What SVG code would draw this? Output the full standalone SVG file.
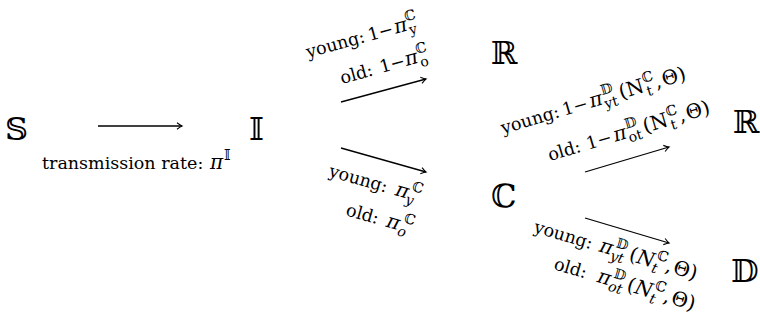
<svg xmlns="http://www.w3.org/2000/svg" width="760" height="321" viewBox="0 0 760 321">
<style>
text{font-family:"DejaVu Serif","DejaVu Sans",serif;fill:#000;font-size:17.5px}
.node{font-size:32px}
.it{font-style:italic}
.m{font-size:20px}
.s{font-size:14px}
.conn{stroke:#000;stroke-width:1.3;fill:none}
</style>
<defs>
<marker id="ah" markerWidth="10" markerHeight="10" viewBox="-6 -5 8 10" refX="0" refY="0" orient="auto" markerUnits="userSpaceOnUse">
<path d="M-5,-3.2 Q-1.5,-0.6 0,0 Q-1.5,0.6 -5,3.2" stroke="#000" stroke-width="1.1" fill="none"/>
</marker>
</defs>
<rect width="760" height="321" fill="#fff"/>
<g id="S"><text class="node" x="5" y="140">𝕊</text></g>
<g id="I"><text class="node" x="249" y="140">𝕀</text></g>
<g id="R1"><text class="node" x="491" y="64">ℝ</text></g>
<g id="C"><text class="node" x="491" y="207">ℂ</text></g>
<g id="R2"><text class="node" x="733" y="133">ℝ</text></g>
<g id="D"><text class="node" x="731" y="282">𝔻</text></g>
<g id="connectors" class="conn" marker-end="url(#ah)">
<line x1="98" y1="126" x2="182" y2="126"/>
<line x1="341" y1="102" x2="426" y2="79"/>
<line x1="341" y1="148" x2="426" y2="172"/>
<line x1="585" y1="172" x2="669" y2="147"/>
<line x1="585" y1="218" x2="669" y2="243"/>
</g>
<g id="labels">
<text x="42" y="169">transmission rate:<tspan class="it m" x="210">π</tspan><tspan class="s" x="224" y="160">𝕀</tspan></text>
<g transform="translate(308,58) rotate(-15.5)"><text>young:<tspan x="64" y="0">1</tspan><tspan x="75">−</tspan><tspan class="it m" x="91">π</tspan><tspan class="s" x="104" y="-9">ℂ</tspan><tspan class="s" x="105" y="5">y</tspan></text></g>
<g transform="translate(342,84) rotate(-15.5)"><text>old:<tspan x="41" y="0">1</tspan><tspan x="52">−</tspan><tspan class="it m" x="67">π</tspan><tspan class="s" x="80" y="-9">ℂ</tspan><tspan class="s" x="81" y="5">o</tspan></text></g>
<g transform="translate(328,176) rotate(16)"><text>young:<tspan class="it m" x="69" y="0">π</tspan><tspan class="s" x="84" y="-9">ℂ</tspan><tspan class="s it" x="81" y="5">y</tspan></text></g>
<g transform="translate(345,215) rotate(16)"><text>old:<tspan class="it m" x="42" y="0">π</tspan><tspan class="s" x="58" y="-9">ℂ</tspan><tspan class="s it" x="55" y="5">o</tspan></text></g>
<g transform="translate(503,134) rotate(-16.5)"><text>young:<tspan x="64" y="0">1</tspan><tspan x="75">−</tspan><tspan class="it m" x="92">π</tspan><tspan class="s" x="106" y="-9">𝔻</tspan><tspan class="s" x="106" y="5">yt</tspan><tspan class="m" x="123" y="0">(N</tspan><tspan class="s" x="149" y="-9">ℂ</tspan><tspan class="s" x="150" y="5">t</tspan><tspan class="m" x="160" y="0">,</tspan><tspan class="m" x="168">Θ)</tspan></text></g>
<g transform="translate(550,161) rotate(-16.5)"><text>old:<tspan x="40" y="0">1</tspan><tspan x="51">−</tspan><tspan class="it m" x="68">π</tspan><tspan class="s" x="82" y="-9">𝔻</tspan><tspan class="s" x="82" y="5">ot</tspan><tspan class="m" x="99" y="0">(N</tspan><tspan class="s" x="125" y="-9">ℂ</tspan><tspan class="s" x="126" y="5">t</tspan><tspan class="m" x="136" y="0">,</tspan><tspan class="m" x="144">Θ)</tspan></text></g>
<g transform="translate(533,232) rotate(16.5)"><text>young:<tspan class="it m" x="68" y="0">π</tspan><tspan class="s" x="83" y="-9">𝔻</tspan><tspan class="s it" x="81" y="5">yt</tspan><tspan class="m" x="99" y="0">(</tspan><tspan class="it m" x="107">N</tspan><tspan class="s" x="126" y="-9">ℂ</tspan><tspan class="s it" x="124" y="5">t</tspan><tspan class="m" x="137" y="0">,</tspan><tspan class="m" x="145">Θ)</tspan></text></g>
<g transform="translate(553,269) rotate(16.5)"><text>old:<tspan class="it m" x="45" y="0">π</tspan><tspan class="s" x="60" y="-9">𝔻</tspan><tspan class="s it" x="58" y="5">ot</tspan><tspan class="m" x="76" y="0">(</tspan><tspan class="it m" x="84">N</tspan><tspan class="s" x="103" y="-9">ℂ</tspan><tspan class="s it" x="101" y="5">t</tspan><tspan class="m" x="114" y="0">,</tspan><tspan class="m" x="122">Θ)</tspan></text></g>
</g>
</svg>
